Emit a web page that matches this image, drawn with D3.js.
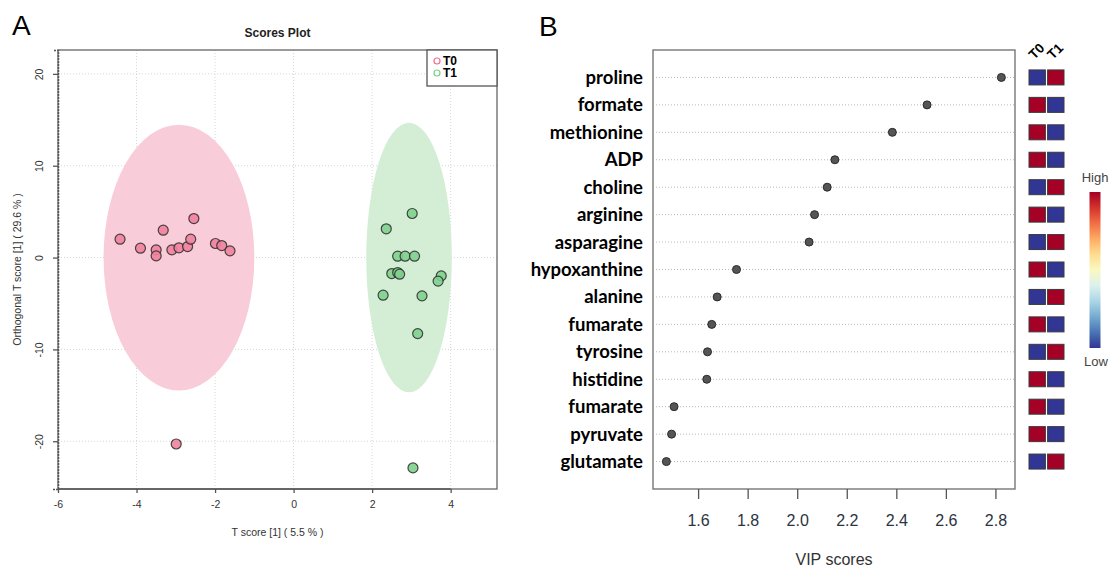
<!DOCTYPE html>
<html>
<head>
<meta charset="utf-8">
<script src="https://cdnjs.cloudflare.com/ajax/libs/d3/7.8.5/d3.min.js"></script>
<style>
  body { margin: 0; background: #fff; }
  svg { display: block; font-family: "Liberation Sans", Arial, sans-serif; }
</style>
</head>
<body>
<svg id="chart" width="1109" height="567"></svg>
<script>
// ---- Panel A data (OPLS-DA scores) ----
const groups = ["T0", "T1"];
const t0X = [-4.42, -3.90, -3.50, -3.50, -3.32, -3.10, -2.92, -2.70, -2.62, -2.54, -1.99, -1.83, -1.62, -2.99];
const t0Y = [2.0, 1.02, 0.84, 0.18, 2.98, 0.84, 1.06, 1.2, 2.0, 4.25, 1.53, 1.31, 0.73, -20.3];
const t1X = [3.02, 2.36, 2.65, 2.84, 3.08, 2.50, 2.65, 2.70, 3.76, 3.68, 2.28, 3.27, 3.16, 3.04];
const t1Y = [4.8, 3.13, 0.15, 0.15, 0.15, -1.74, -1.63, -1.81, -1.99, -2.57, -4.1, -4.17, -8.28, -22.9];
// 95% confidence ellipses
const ellipseCx = [-2.92, 2.94];
const ellipseCy = [0, 0];
const ellipseRx = [1.92, 1.09];
const ellipseRy = [14.47, 14.67];
const scoreXTicks = [-6, -4, -2, 0, 2, 4];
const scoreYTicks = [-20, -10, 0, 10, 20];

// ---- Panel B data (VIP scores) ----
const metabolites = ["proline", "formate", "methionine", "ADP", "choline", "arginine", "asparagine",
  "hypoxanthine", "alanine", "fumarate", "tyrosine", "histidine", "fumarate", "pyruvate", "glutamate"];
const vipScores = [2.824, 2.524, 2.384, 2.152, 2.121, 2.070, 2.048, 1.755, 1.677, 1.655, 1.638, 1.635, 1.503, 1.493, 1.472];
// relative level per group (1 = high, 0 = low)
const levelT0 = [0, 1, 1, 1, 0, 1, 0, 1, 0, 1, 0, 1, 1, 1, 0];
const levelT1 = [1, 0, 0, 0, 1, 0, 1, 0, 1, 0, 1, 0, 0, 0, 1];
const vipTicks = [1.6, 1.8, 2.0, 2.2, 2.4, 2.6, 2.8];

const svg = d3.select("#chart");

// ================= Panel A =================
const pA = {left: 58, right: 497, top: 50, bottom: 489};
const xA = d3.scaleLinear().domain([-6, 5.18]).range([pA.left, pA.right]);
const yA = d3.scaleLinear().domain([-25.2, 22.6]).range([pA.bottom, pA.top]);
const fillColor = d3.scaleOrdinal().domain(groups).range(["#f0829f", "#80d08e"]);
const ellColor = d3.scaleOrdinal().domain(groups).range(["#f8ccd8", "#d4eed6"]);
const legColor = d3.scaleOrdinal().domain(groups).range(["#ee6f90", "#7ccf88"]);

svg.append("text")
  .attr("x", 12).attr("y", 35)
  .attr("font-size", 28)
  .text("A");

svg.append("text")
  .attr("x", (pA.left + pA.right) / 2).attr("y", 37)
  .attr("text-anchor", "middle")
  .attr("font-size", 12).attr("font-weight", "bold")
  .attr("fill", "#222")
  .text("Scores Plot");

// grid
const gridA = svg.append("g").attr("stroke", "#d6d6d6").attr("stroke-dasharray", "1,2");
scoreXTicks.forEach(v => {
  gridA.append("line").attr("x1", xA(v)).attr("x2", xA(v)).attr("y1", pA.top).attr("y2", pA.bottom);
});
scoreYTicks.forEach(v => {
  gridA.append("line").attr("x1", pA.left).attr("x2", pA.right).attr("y1", yA(v)).attr("y2", yA(v));
});

// ellipses
groups.forEach((g, i) => {
  svg.append("ellipse")
    .attr("cx", xA(ellipseCx[i]))
    .attr("cy", yA(ellipseCy[i]))
    .attr("rx", xA(ellipseCx[i] + ellipseRx[i]) - xA(ellipseCx[i]))
    .attr("ry", yA(ellipseCy[i]) - yA(ellipseCy[i] + ellipseRy[i]))
    .attr("fill", ellColor(g));
});

// points
const scorePts = [
  ...t0X.map((x, i) => ({g: "T0", x, y: t0Y[i]})),
  ...t1X.map((x, i) => ({g: "T1", x, y: t1Y[i]}))
];
svg.append("g").selectAll("circle")
  .data(scorePts)
  .enter()
  .append("circle")
  .attr("cx", d => xA(d.x))
  .attr("cy", d => yA(d.y))
  .attr("r", 5)
  .attr("fill", d => fillColor(d.g))
  .attr("fill-opacity", 0.9)
  .attr("stroke", "#2a2a2a")
  .attr("stroke-opacity", 0.85)
  .attr("stroke-width", 1.2);

// box
svg.append("rect")
  .attr("x", pA.left).attr("y", pA.top)
  .attr("width", pA.right - pA.left).attr("height", pA.bottom - pA.top)
  .attr("fill", "none").attr("stroke", "#666").attr("stroke-width", 1.3);

// axes
const axA = svg.append("g")
  .attr("transform", `translate(0,${pA.bottom})`)
  .call(d3.axisBottom(xA).tickValues(scoreXTicks).tickSize(4).tickPadding(8).tickFormat(d3.format("d")));
axA.select(".domain").attr("d", `M${xA(-6)},0H${xA(4)}`).attr("stroke", "#555").attr("stroke-width", 1.5);
axA.selectAll(".tick line").attr("stroke", "#555").attr("stroke-width", 1.3);
axA.selectAll(".tick text").attr("font-size", 10.5).attr("fill", "#333").attr("font-family", "Liberation Sans")
  .text(d => d < 0 ? "-" + Math.abs(d) : d);

const ayA = svg.append("g")
  .attr("transform", `translate(${pA.left},0)`)
  .call(d3.axisLeft(yA).tickValues(scoreYTicks).tickSize(5));
ayA.select(".domain").attr("stroke", "#555").attr("stroke-width", 1.5).attr("stroke-dasharray", "2,1");
ayA.selectAll(".tick line").attr("stroke", "#555").attr("stroke-width", 1.3);
ayA.selectAll(".tick text")
  .attr("font-size", 10.5).attr("fill", "#333").attr("font-family", "Liberation Sans")
  .attr("x", 0).attr("dy", 0)
  .attr("text-anchor", "middle")
  .attr("transform", "translate(-15,0) rotate(-90)")
  .text(d => d < 0 ? "-" + Math.abs(d) : d);

svg.append("text")
  .attr("x", (pA.left + pA.right) / 2).attr("y", 536)
  .attr("text-anchor", "middle")
  .attr("font-size", 10.5).attr("fill", "#333")
  .text("T score [1] ( 5.5 % )");

svg.append("text")
  .attr("transform", `translate(21,${(pA.top + pA.bottom) / 2}) rotate(-90)`)
  .attr("text-anchor", "middle")
  .attr("font-size", 10.5).attr("fill", "#333")
  .text("Orthogonal T score [1] ( 29.6 % )");

// legend
const legA = svg.append("g");
legA.append("rect")
  .attr("x", 427).attr("y", pA.top).attr("width", pA.right - 427).attr("height", 36)
  .attr("fill", "#fff").attr("stroke", "#555").attr("stroke-width", 1.3);
groups.forEach((g, i) => {
  legA.append("circle")
    .attr("cx", 437).attr("cy", 61 + i * 12).attr("r", 3)
    .attr("fill", "none").attr("stroke", legColor(g)).attr("stroke-width", 1.2);
  legA.append("text")
    .attr("x", 443).attr("y", 61 + i * 12)
    .attr("dy", "0.36em")
    .attr("font-size", 12).attr("font-weight", "bold")
    .text(g);
});

// ================= Panel B =================
const pB = {left: 653, right: 1015, top: 50, bottom: 489};
const xB = d3.scaleLinear().domain([1.418, 2.879]).range([pB.left, pB.right]);
const yB = d3.scalePoint().domain(d3.range(metabolites.length)).range([pB.top, pB.bottom]).padding(1);
const heat = v => d3.interpolateRdYlBu(1 - v);

svg.append("text")
  .attr("x", 539).attr("y", 36)
  .attr("font-size", 28)
  .text("B");

// dotted row lines
svg.append("g").selectAll("line")
  .data(metabolites)
  .enter()
  .append("line")
  .attr("x1", pB.left + 3).attr("x2", pB.right)
  .attr("y1", (d, i) => yB(i)).attr("y2", (d, i) => yB(i))
  .attr("stroke", "#b8b8b8").attr("stroke-dasharray", "1,2");

// labels
svg.append("g").selectAll("text")
  .data(metabolites)
  .enter()
  .append("text")
  .attr("x", 643)
  .attr("y", (d, i) => yB(i))
  .attr("dy", "0.35em")
  .attr("text-anchor", "end")
  .attr("font-family", "Lato, 'Liberation Sans', sans-serif")
  .attr("font-size", 18.5).attr("font-weight", "bold").attr("fill", "#000")
  .text(d => d);

// VIP points
svg.append("g").selectAll("circle")
  .data(vipScores)
  .enter()
  .append("circle")
  .attr("cx", d => xB(d))
  .attr("cy", (d, i) => yB(i))
  .attr("r", 4)
  .attr("fill", "#555")
  .attr("stroke", "#2a2a2a")
  .attr("stroke-width", 1);

svg.append("rect")
  .attr("x", pB.left).attr("y", pB.top)
  .attr("width", pB.right - pB.left).attr("height", pB.bottom - pB.top)
  .attr("fill", "none").attr("stroke", "#777").attr("stroke-width", 1.4);

const axB = svg.append("g")
  .attr("transform", `translate(0,${pB.bottom})`)
  .call(d3.axisBottom(xB).tickValues(vipTicks).tickSize(10).tickPadding(16).tickFormat(d3.format(".1f")));
axB.select(".domain").remove();
axB.selectAll(".tick line").attr("stroke", "#555").attr("stroke-width", 1.3);
axB.selectAll(".tick text").attr("font-size", 16).attr("fill", "#2b3440").attr("font-family", "Liberation Sans");

svg.append("text")
  .attr("x", (pB.left + pB.right) / 2).attr("y", 565)
  .attr("text-anchor", "middle")
  .attr("font-size", 16).attr("fill", "#333")
  .text("VIP scores");

// heatmap columns
const colX = d3.scaleBand().domain(groups).range([1029, 1064]).paddingInner(0.12);
const levels = {T0: levelT0, T1: levelT1};
groups.forEach(g => {
  svg.append("g").selectAll("rect")
    .data(levels[g])
    .enter()
    .append("rect")
    .attr("x", colX(g))
    .attr("y", (d, i) => yB(i) - 7.5)
    .attr("width", colX.bandwidth())
    .attr("height", 15)
    .attr("fill", d => heat(d))
    .attr("stroke", "#3a3a3a")
    .attr("stroke-width", 1);
  svg.append("text")
    .attr("transform", `translate(${colX(g) + colX.bandwidth() / 2 - 3},60) rotate(-45)`)
    .attr("font-size", 13.5).attr("font-weight", "bold")
    .text(g);
});

// colour key
const keyY = d3.scaleLinear().domain([0, 1]).range([348, 192]);
const grad = svg.append("defs").append("linearGradient")
  .attr("id", "keyGrad")
  .attr("x1", 0).attr("x2", 0).attr("y1", 1).attr("y2", 0);
d3.range(0, 1.0001, 0.1).forEach(t => {
  grad.append("stop").attr("offset", t).attr("stop-color", heat(t));
});
svg.append("rect")
  .attr("x", 1089.5).attr("y", keyY(1))
  .attr("width", 11).attr("height", keyY(0) - keyY(1))
  .attr("fill", "url(#keyGrad)");
svg.append("text")
  .attr("x", 1095).attr("y", keyY(1) - 10)
  .attr("text-anchor", "middle").attr("font-size", 13).attr("fill", "#444")
  .text("High");
svg.append("text")
  .attr("x", 1096).attr("y", keyY(0) + 18)
  .attr("text-anchor", "middle").attr("font-size", 13).attr("fill", "#444")
  .text("Low");
</script>
</body>
</html>
